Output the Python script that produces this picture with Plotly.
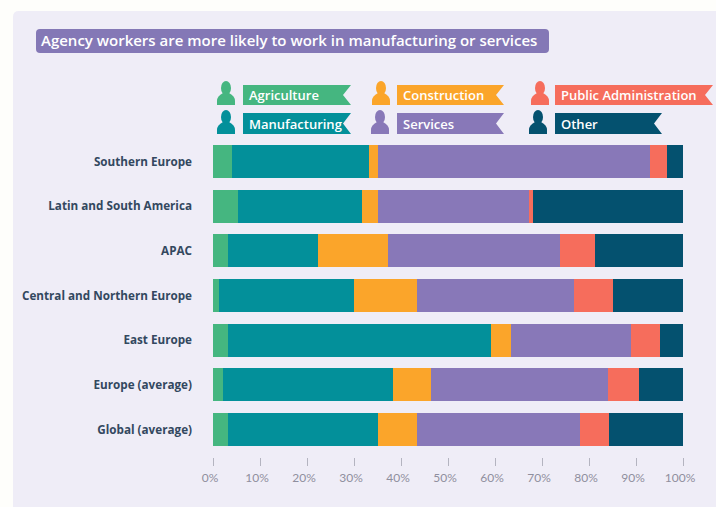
import plotly.graph_objects as go

W, H = 716, 507

regions = ["Southern Europe", "Latin and South America", "APAC",
           "Central and Northern Europe", "East Europe",
           "Europe (average)", "Global (average)"]

agriculture = [4.1, 5.3, 3.1, 1.3, 3.1, 2.1, 3.1]
manufacturing = [29.1, 26.3, 19.2, 28.8, 56.1, 36.1, 32.1]
construction = [2.0, 3.6, 14.9, 13.3, 4.1, 8.2, 8.2]
services = [57.7, 32.0, 36.7, 33.5, 25.6, 37.7, 34.6]
public_admin = [3.7, 0.8, 7.3, 8.2, 6.3, 6.5, 6.2]
other = [3.4, 32.0, 18.8, 14.9, 4.8, 9.4, 15.8]

GREEN, TEAL, ORANGE = "#45b680", "#03909a", "#fba52a"
PURPLE, CORAL, NAVY = "#8878b8", "#f66d5c", "#04516f"

series = [("Agriculture", agriculture, GREEN),
          ("Manufacturing", manufacturing, TEAL),
          ("Construction", construction, ORANGE),
          ("Services", services, PURPLE),
          ("Public Administration", public_admin, CORAL),
          ("Other", other, NAVY)]

tick_values = list(range(0, 101, 10))
tick_labels = [f"{v}%" for v in tick_values]

# legend rows: label, colour, person centre x, ribbon left, ribbon right, ribbon top, ribbon bottom
legend_rows = [("Agriculture", GREEN, 226, 243, 351, 85, 105),
               ("Manufacturing", TEAL, 226, 243, 351, 113, 134),
               ("Construction", ORANGE, 381, 397, 504, 85, 105),
               ("Services", PURPLE, 380, 397, 504, 113, 134),
               ("Public Administration", CORAL, 540, 555, 713, 85, 105),
               ("Other", NAVY, 538, 555, 662, 113, 134)]

title_text = "Agency workers are more likely to work in manufacturing or services"


def px(x):
    return x / W


def py(y):
    return 1 - y / H


def poly(points):
    return "M" + " L".join(f"{px(x):.5f},{py(y):.5f}" for x, y in points) + " Z"


def rounded_rect(x0, y0, x1, y1, r):
    return (f"M{px(x0 + r):.5f},{py(y0):.5f} L{px(x1 - r):.5f},{py(y0):.5f} "
            f"Q{px(x1):.5f},{py(y0):.5f} {px(x1):.5f},{py(y0 + r):.5f} "
            f"L{px(x1):.5f},{py(y1 - r):.5f} Q{px(x1):.5f},{py(y1):.5f} {px(x1 - r):.5f},{py(y1):.5f} "
            f"L{px(x0 + r):.5f},{py(y1):.5f} Q{px(x0):.5f},{py(y1):.5f} {px(x0):.5f},{py(y1 - r):.5f} "
            f"L{px(x0):.5f},{py(y0 + r):.5f} Q{px(x0):.5f},{py(y0):.5f} {px(x0 + r):.5f},{py(y0):.5f} Z")


def path_shape(path, color):
    return dict(type="path", xref="paper", yref="paper", path=path,
                fillcolor=color, line_width=0, layer="above")


def person(cx, top, color):
    head = dict(type="circle", xref="paper", yref="paper", layer="above",
                x0=px(cx - 5), x1=px(cx + 5), y0=py(top + 14), y1=py(top),
                fillcolor=color, line_width=0)
    body = (f"M{px(cx - 9):.5f},{py(top + 24):.5f} "
            f"L{px(cx - 9):.5f},{py(top + 20):.5f} "
            f"Q{px(cx - 9):.5f},{py(top + 15):.5f} {px(cx - 3):.5f},{py(top + 12):.5f} "
            f"L{px(cx + 3):.5f},{py(top + 12):.5f} "
            f"Q{px(cx + 9):.5f},{py(top + 15):.5f} {px(cx + 9):.5f},{py(top + 20):.5f} "
            f"L{px(cx + 9):.5f},{py(top + 24):.5f} Z")
    return [head, path_shape(body, color)]


fig = go.Figure()
for name, values, color in series:
    fig.add_trace(go.Bar(y=regions, x=values, name=name, orientation="h",
                         marker=dict(color=color, line_width=0), showlegend=False))

# panel behind the chart and title pill
shapes = [dict(type="path", xref="paper", yref="paper", layer="below",
               path=rounded_rect(13, 11, 740, 540, 6), fillcolor="#efedf7", line_width=0),
          path_shape(rounded_rect(36, 29, 549, 53, 4), "#8478b6")]
annotations = [dict(text=title_text, xref="paper", yref="paper", x=px(39), y=py(40.5),
                    xanchor="left", yanchor="middle", showarrow=False,
                    font=dict(family="Open Sans", size=15, color="#ffffff", weight=600))]

for label, color, cx, x0, x1, y0, y1 in legend_rows:
    ribbon = [(x0, y0), (x1, y0), (x1 - 8, (y0 + y1) / 2), (x1, y1), (x0, y1)]
    shapes.append(path_shape(poly(ribbon), color))
    shapes.extend(person(cx, y0 - 4 if y0 < 100 else y0 - 3, color))
    annotations.append(dict(text=label, xref="paper", yref="paper", x=px(x0 + 4),
                            y=py((y0 + y1) / 2), xanchor="left", yanchor="middle",
                            showarrow=False,
                            font=dict(family="Open Sans", size=13, color="#ffffff", weight=600)))

fig.update_layout(
    width=W, height=H, autosize=False,
    margin=dict(l=0, r=0, t=0, b=0),
    barmode="stack", bargap=0.26,
    paper_bgcolor="#fefefb", plot_bgcolor="rgba(0,0,0,0)",
    shapes=shapes, annotations=annotations,
    xaxis=dict(domain=[px(213), px(683)], range=[0, 100], tickvals=tick_values,
               ticktext=tick_labels, ticks="outside", ticklen=8, tickwidth=1,
               tickcolor="#b4b4c0", showgrid=False, showline=False, zeroline=False,
               automargin=False, ticklabelshift=-3, ticklabelstandoff=2,
               tickfont=dict(family="Lato", size=12, color="#8f8f9e")),
    yaxis=dict(domain=[py(457), py(139)], type="category", categoryorder="array",
               categoryarray=regions, range=[6.615, -0.504], showgrid=False,
               showline=False, zeroline=False, ticks="", ticklabelstandoff=20,
               automargin=False,
               tickfont=dict(family="Open Sans", size=11.7, color="#33485f", weight=700)),
)

fig.write_html("out.html")
